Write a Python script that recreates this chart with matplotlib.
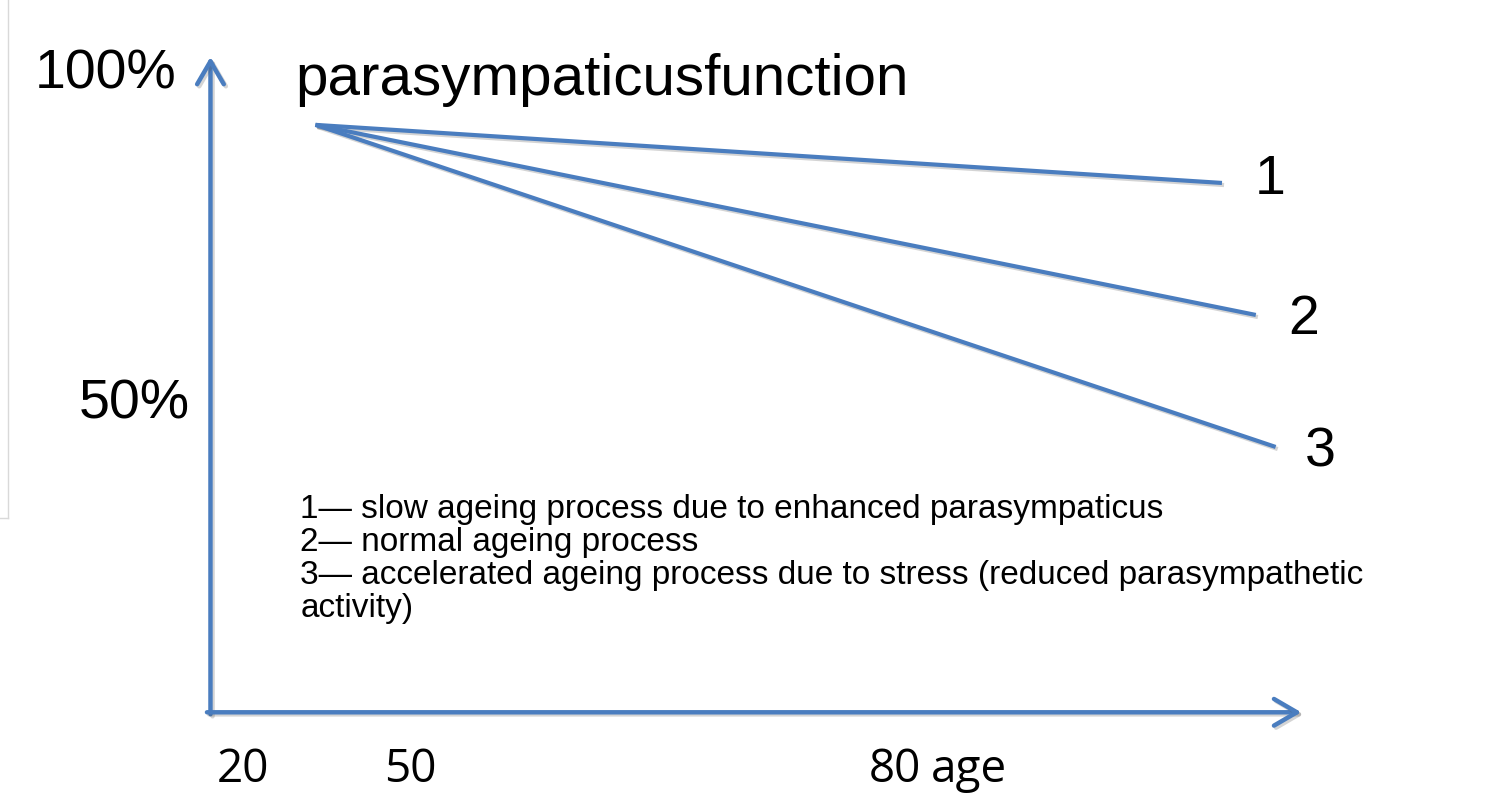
import matplotlib
matplotlib.use("Agg")
import matplotlib.pyplot as plt
import matplotlib.patheffects as pe

# ---- data (schematic) ----
series_labels = ["1", "2", "3"]
start_age = 26.9
start_pct = 92.9
end_ages = [104.6, 107.5, 109.2]
end_pcts = [84.1, 64.1, 44.1]

ytick_vals = [100, 50]
ytick_labels = ["100%", "50%"]
xtick_labels = ["20", "50", "80"]
xtick_pos = [20.7, 35.0, 76.6]
title = "parasympaticusfunction"
legend_lines = [
    "1\u2014 slow ageing process due to enhanced parasympaticus",
    "2\u2014 normal ageing process",
    "3\u2014 accelerated ageing process due to stress (reduced parasympathetic",
    "activity)",
]

blue = "#4a7dbf"
shadow = [pe.SimpleLineShadow(offset=(1.5, -1.5), alpha=0.25, shadow_color="#555555"), pe.Normal()]

fig = plt.figure(figsize=(14.91, 8.0), dpi=100)
ax = fig.add_axes([0, 0, 1, 1])
ax.set_xlim(-0.14, 127.66)
ax.set_ylim(-9.39, 111.82)
ax.axis("off")

# faint frame at left
ax.plot([0.54, 0.54], [111.82, 33.3], color="#d9d9d9", lw=1)
ax.plot([-0.14, 0.54], [33.3, 33.3], color="#d9d9d9", lw=1)

# axes arrows
ox, oy = 17.9, 3.9
arrowprops = dict(arrowstyle="->,head_length=0.55,head_width=0.32", color=blue, lw=3.2,
                  mutation_scale=30, shrinkA=0, shrinkB=0, path_effects=shadow)
ax.annotate("", xy=(ox, 103.2), xytext=(ox, oy - 0.3), arrowprops=arrowprops)
ax.annotate("", xy=(111.4, oy), xytext=(ox - 0.3, oy), arrowprops=arrowprops)

# series lines
for ea, ep, lab in zip(end_ages, end_pcts, series_labels):
    ax.plot([start_age, ea], [start_pct, ep], color=blue, lw=3.0,
            solid_capstyle="butt", path_effects=shadow)

label_x = [107.4, 110.3, 111.7]
label_y = [84.5, 63.3, 43.2]
for lx, ly, lab in zip(label_x, label_y, series_labels):
    ax.text(lx, ly, lab, fontsize=40, family="Liberation Sans", ha="left", va="center")

# y labels
for v, l in zip(ytick_vals, ytick_labels):
    ax.text(15.0 if v == 100 else 16.1, v + 0.5, l, fontsize=40, family="Liberation Sans",
            ha="right", va="center")

# title
ax.text(25.2, 99.7, title, fontsize=42, family="Liberation Sans", ha="left", va="center")

# legend text
ax.text(25.6, 36.9, "\n".join(legend_lines), fontsize=24, family="Liberation Sans",
        ha="left", va="top", linespacing=1.07)

# x labels
for p, l in zip(xtick_pos, xtick_labels):
    ax.text(p, -4.8, l, fontsize=33, family=["Open Sans", "DejaVu Sans"], ha="center", va="center")
ax.text(82.9, -4.8, "age", fontsize=33, family=["Open Sans", "DejaVu Sans"], ha="center", va="center")

fig.savefig("out.png", dpi=100)
